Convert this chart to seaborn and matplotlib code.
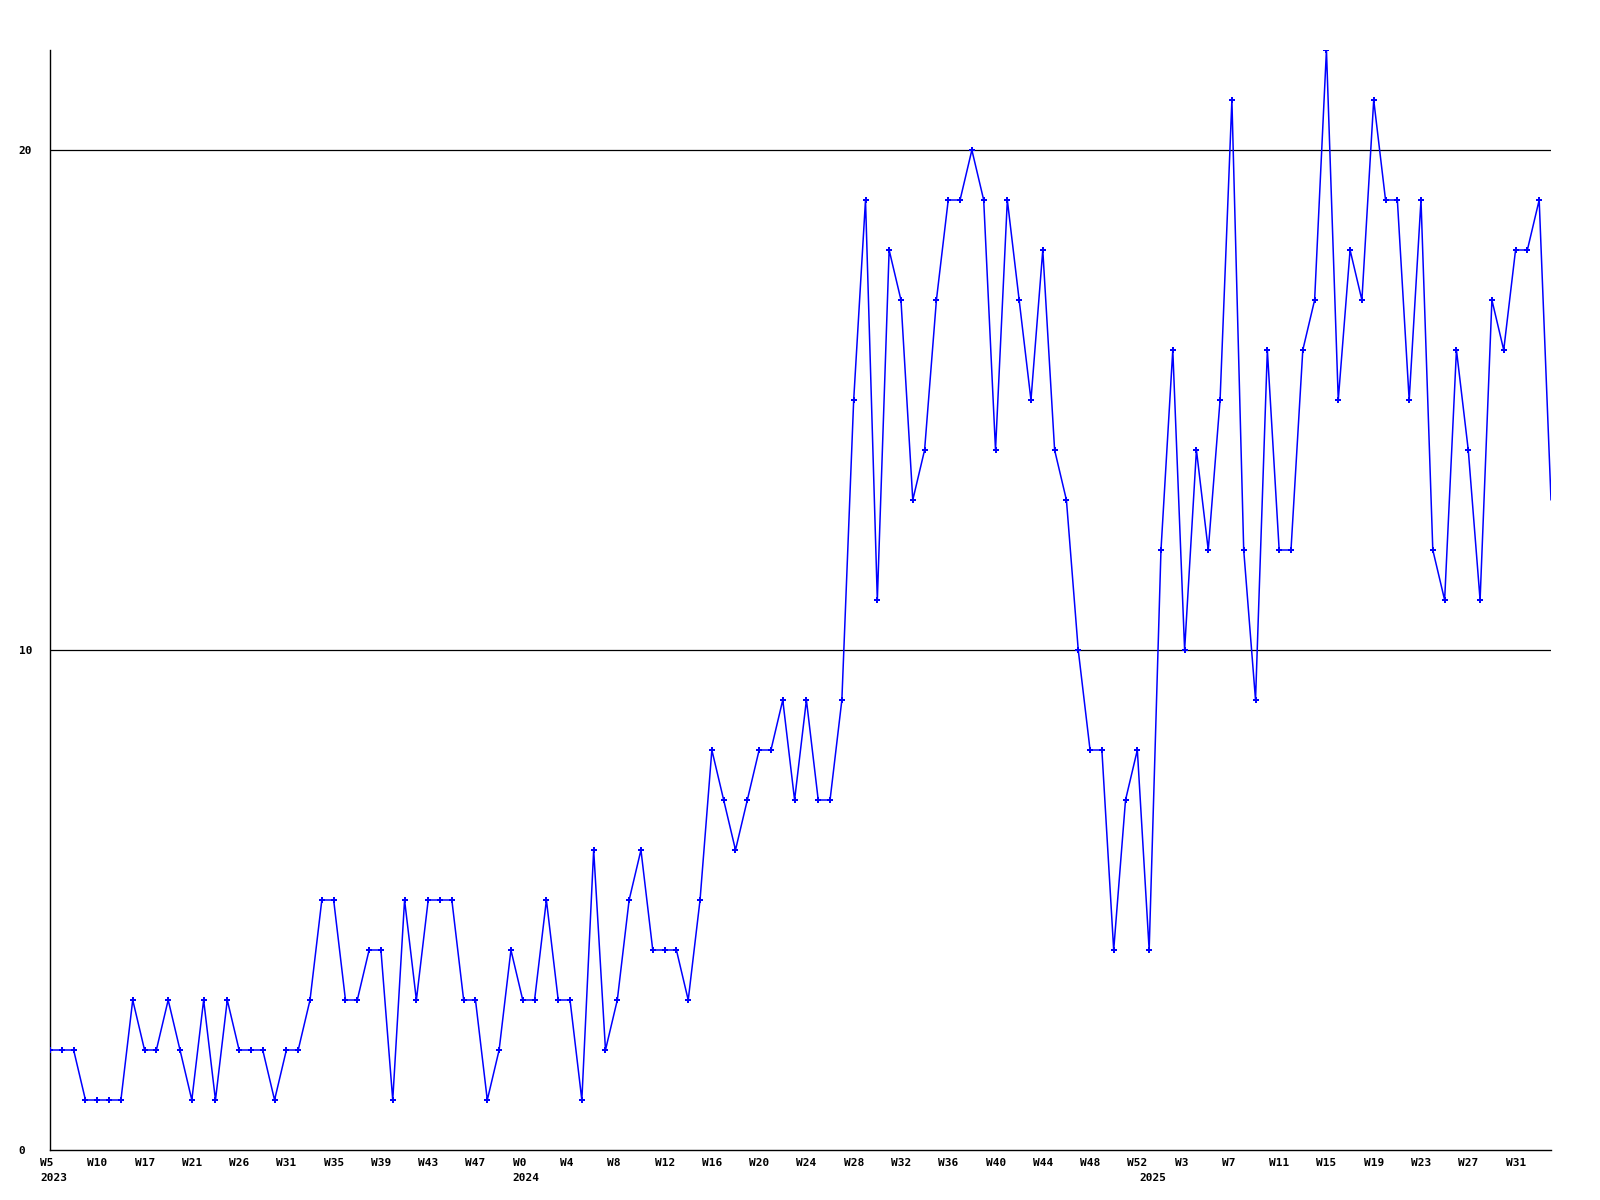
import matplotlib
matplotlib.use("Agg")
import matplotlib.pyplot as plt
from matplotlib.transforms import ScaledTranslation
import numpy as np
import pandas as pd
import seaborn as sns

# ---- data ----
counts = [
    2, 2, 2, 1, 1, 1, 1, 3, 2, 2, 3, 2, 1, 3, 1, 3, 2, 2, 2, 1, 2, 2, 3, 5, 5, 3, 3, 4, 4, 1, 5, 3, 5, 5, 5,
    3, 3, 1, 2, 4, 3, 3, 5, 3, 3, 1, 6, 2, 3, 5, 6, 4, 4, 4, 3, 5, 8, 7, 6, 7, 8, 8, 9, 7, 9, 7, 7, 9,
    15, 19, 11, 18, 17, 13, 14, 17, 19, 19, 20, 19, 14, 19, 17, 15, 18, 14, 13, 10, 8, 8, 4, 7, 8, 4, 12, 16, 10,
    14, 12, 15, 21, 12, 9, 16, 12, 12, 16, 17, 22, 15, 18, 17, 21, 19, 19, 15, 19, 12, 11, 16, 14, 11, 17, 16, 18, 18, 19, 13,
]
tick_labels = ["W5", "W10", "W17", "W21", "W26", "W31", "W35", "W39", "W43", "W47",
               "W0", "W4", "W8", "W12", "W16", "W20", "W24", "W28", "W32", "W36",
               "W40", "W44", "W48", "W52", "W3", "W7", "W11", "W15", "W19", "W23",
               "W27", "W31"]
year_labels = ["2023", "2024", "2025"]
year_positions = [0, 40, 93]
y_ticks = [0, 10, 20]

df = pd.DataFrame({"idx": np.arange(len(counts)), "count": counts})

sns.set_style("white")
plt.rcParams["font.family"] = ["DejaVu Sans Mono", "DejaVu Sans"]
plt.rcParams["font.weight"] = "bold"
plt.rcParams["text.color"] = "black"
plt.rcParams["xtick.color"] = "black"
plt.rcParams["ytick.color"] = "black"

fig = plt.figure(figsize=(16, 12), dpi=100)
ax = fig.add_axes([50 / 1600, 50 / 1200, 1501 / 1600, 1100 / 1200])

for v in y_ticks[1:]:
    ax.axhline(v, color="black", lw=0.9, zorder=1)

sns.lineplot(data=df, x="idx", y="count", ax=ax, color="#0000ff", linewidth=1.1,
             marker="P", markersize=4.2, markeredgewidth=0,
             markevery=list(range(len(counts) - 1)), zorder=3)

ax.set_xlim(0, len(counts) - 1)
ax.set_ylim(0, 22)
ax.set_xlabel("")
ax.set_ylabel("")

for s in ["top", "right"]:
    ax.spines[s].set_visible(False)
for s in ["left", "bottom"]:
    ax.spines[s].set_color("black")
    ax.spines[s].set_linewidth(1.0)

ax.set_xticks(np.arange(0, len(counts), 4)[:len(tick_labels)])
ax.set_xticklabels(tick_labels, fontsize=8, fontweight="bold", color="black")
ax.set_yticks(y_ticks)
ax.set_yticklabels([str(v) for v in y_ticks], fontsize=8, fontweight="bold", color="black")
ax.tick_params(axis="x", length=0, pad=6)
ax.tick_params(axis="y", length=0, pad=22.5)

shift = ScaledTranslation(-10 / 100, 0, fig.dpi_scale_trans)
for lab in ax.get_xticklabels():
    lab.set_horizontalalignment("left")
    lab.set_transform(lab.get_transform() + shift)
for lab in ax.get_yticklabels():
    lab.set_horizontalalignment("left")

for yr, pos in zip(year_labels, year_positions):
    ax.annotate(yr, xy=(pos, 0), xycoords=("data", "axes fraction"),
                xytext=(-10, -23), textcoords="offset pixels", color="black",
                ha="left", va="top", fontsize=8, fontweight="bold", annotation_clip=False)

fig.savefig("out.png", dpi=100, facecolor="white")
